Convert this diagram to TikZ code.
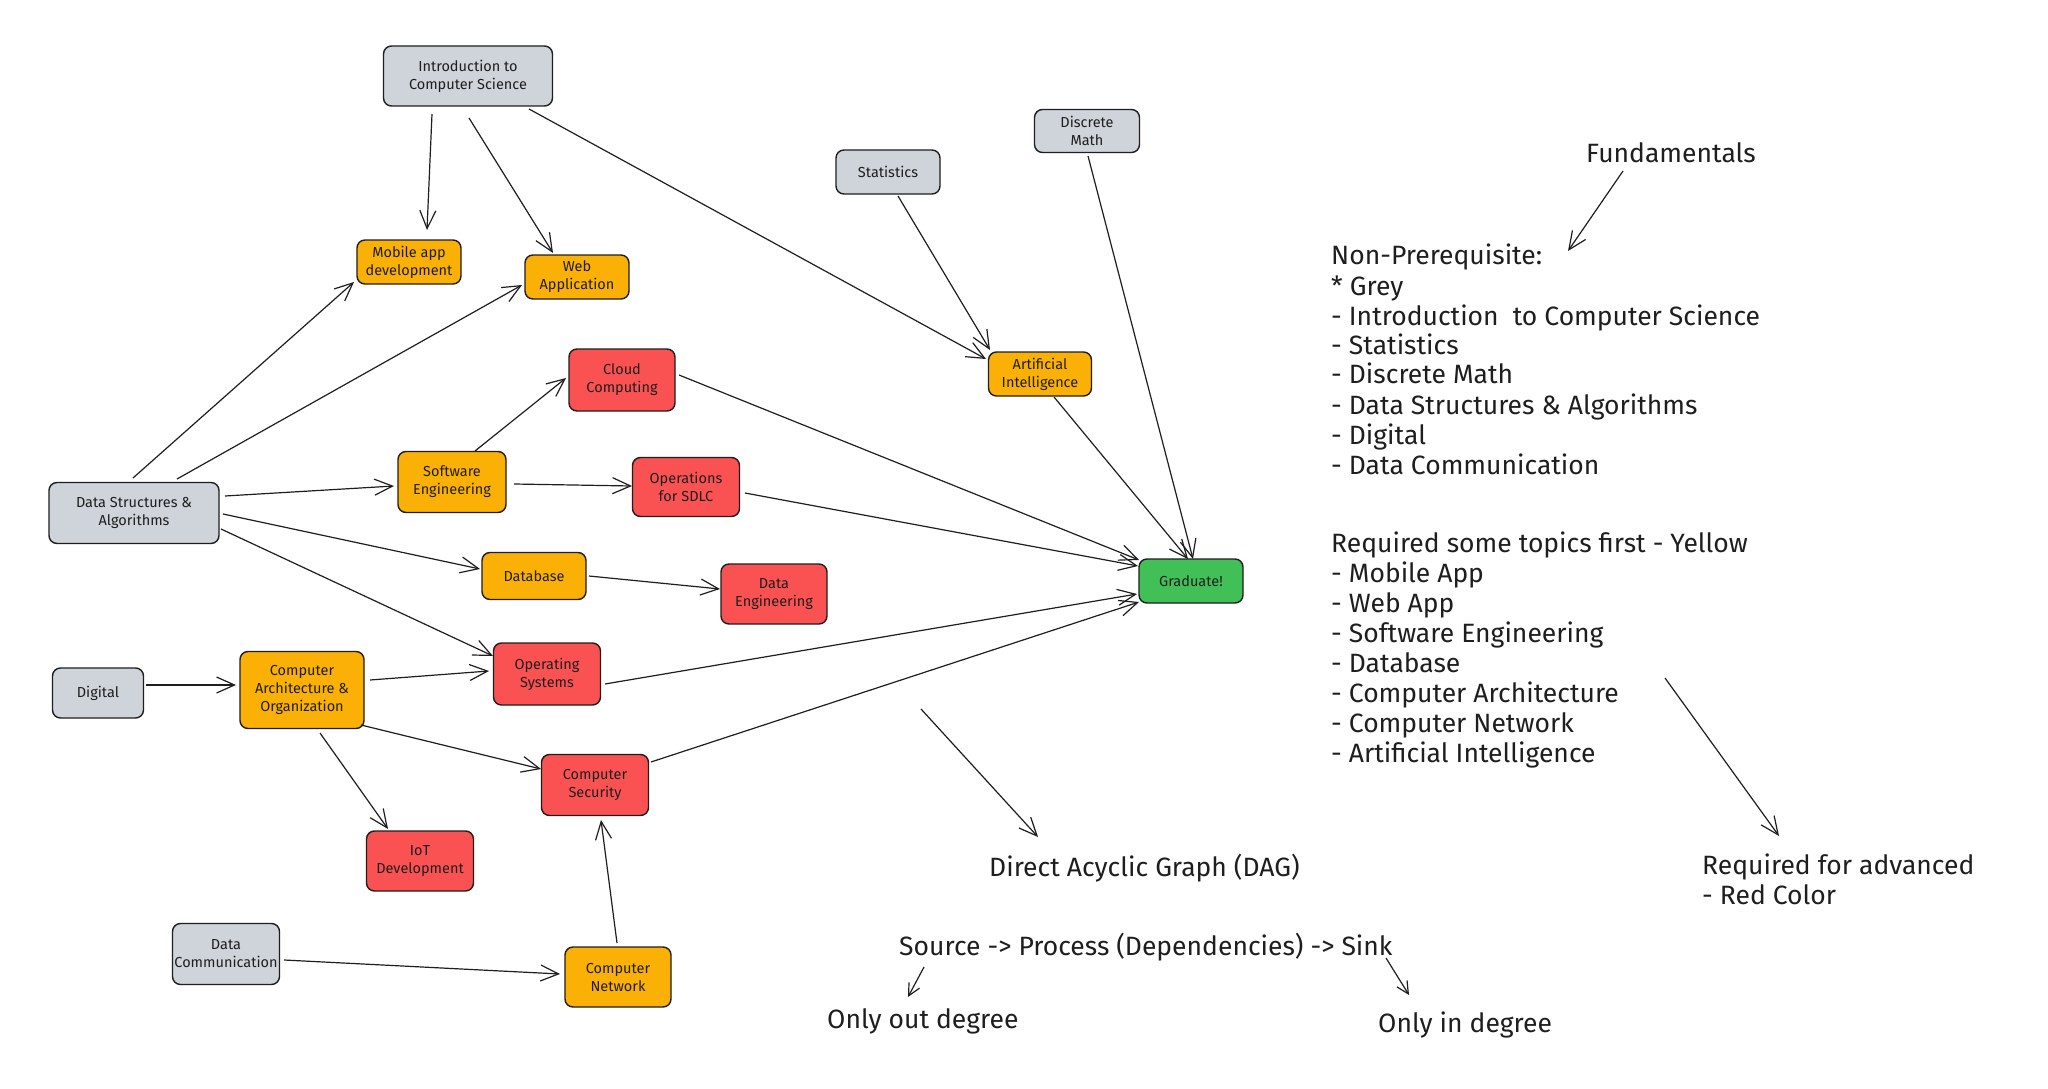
\documentclass[tikz,border=0pt]{standalone}
\usepackage{fontspec}
\setmainfont{Fira Sans}
\usetikzlibrary{arrows.meta,calc}
\definecolor{ink}{HTML}{1E1E1E}
\definecolor{cgrey}{HTML}{CED4DA}
\definecolor{cyellow}{HTML}{FAB005}
\definecolor{cred}{HTML}{FA5252}
\definecolor{cgreen}{HTML}{40C057}
\begin{document}
\begin{tikzpicture}[x=1pt,y=-1pt,
  box/.style={draw=ink, line width=1.4pt, rounded corners=8pt, align=center,
    inner sep=0pt, font=\fontsize{14.5}{18}\selectfont, text=ink},
  greybox/.style={box, fill=cgrey},
  yellowbox/.style={box, fill=cyellow},
  redbox/.style={box, fill=cred},
  greenbox/.style={box, fill=cgreen},
  sz/.style 2 args={minimum width=#1pt, minimum height=#2pt},
  link/.style={draw=ink, line width=1.2pt,
    -{Straight Barb[length=18pt,width=16pt,line width=1.2pt]}},
  note/.style={font=\fontsize{26.5}{30}\selectfont, text=ink, anchor=base west, inner sep=0pt}]
\fill[white] (0,0) rectangle (2048,1089);
\useasboundingbox (0,0) rectangle (2048,1089);

% ---- topics ----
\node[greybox, sz={169}{60}] (intro) at (468,76) {Introduction to\\Computer Science};
\node[yellowbox, sz={104}{44}] (mobile) at (409,262) {Mobile app\\development};
\node[yellowbox, sz={104}{44}] (web) at (577,277) {Web\\Application};
\node[redbox, sz={106}{62}] (cloud) at (622,380) {Cloud\\Computing};
\node[yellowbox, sz={108}{61}] (se) at (452,482) {Software\\Engineering};
\node[greybox, sz={170}{61}] (dsa) at (134,513) {Data Structures \&\\Algorithms};
\node[redbox, sz={107}{59}] (ops) at (686,487) {Operations\\for SDLC};
\node[yellowbox, sz={104}{47}] (db) at (534,576) {Database};
\node[redbox, sz={106}{60}] (de) at (774,594) {Data\\Engineering};
\node[redbox, sz={107}{62}] (os) at (547,674) {Operating\\Systems};
\node[greybox, sz={91}{50}] (digital) at (98,693) {Digital};
\node[yellowbox, sz={124}{77}] (cao) at (302,690) {Computer\\Architecture \&\\Organization};
\node[redbox, sz={107}{61}] (sec) at (595,785) {Computer\\Security};
\node[redbox, sz={107}{60}] (iot) at (420,861) {IoT\\Development};
\node[greybox, sz={107}{61}] (dcomm) at (226,954) {Data\\Communication};
\node[yellowbox, sz={106}{60}] (net) at (618,977) {Computer\\Network};
\node[greybox, sz={104}{44}] (stats) at (888,172) {Statistics};
\node[greybox, sz={105}{43}] (dmath) at (1087,131) {Discrete\\Math};
\node[yellowbox, sz={103}{44}] (ai) at (1040,374) {Artificial\\Intelligence};
\node[greenbox, sz={104}{44}] (grad) at (1191,581) {Graduate!};

% ---- dependencies ----
\draw[link] ($(intro)+(-36,38)$) -- ($(mobile)+(18,-32)$);
\draw[link] ($(intro)+(1,42)$) -- ($(web)+(-24,-24)$);
\draw[link] ($(intro)+(61,33)$) -- ($(ai)+(-54,-15)$);
\draw[link] ($(stats)+(10,24)$) -- ($(ai)+(-50,-24)$);
\draw[link] ($(dmath)+(1,25)$) -- ($(grad)+(2,-22)$);
\draw[link] ($(ai)+(14,23)$) -- ($(grad)+(-3,-22)$);
\draw[link] ($(cloud)+(57,-5)$) -- ($(grad)+(-52,-21)$);
\draw[link] ($(ops)+(59,6)$) -- ($(grad)+(-53,-15)$);
\draw[link] ($(db)+(55,0)$) -- ($(de)+(-54,-5)$);
\draw[link] ($(os)+(58,10)$) -- ($(grad)+(-54,13)$);
\draw[link] ($(sec)+(56,-23)$) -- ($(grad)+(-52,21)$);
\draw[link] ($(dsa)+(-1,-35)$) -- ($(mobile)+(-55,20)$);
\draw[link] ($(dsa)+(43,-34)$) -- ($(web)+(-55,8)$);
\draw[link] ($(dsa)+(91,-17)$) -- ($(se)+(-58,4)$);
\draw[link] ($(se)+(23,-31)$) -- ($(cloud)+(-56,-2)$);
\draw[link] ($(se)+(62,2)$) -- ($(ops)+(-54,-1)$);
\draw[link] ($(dsa)+(89,1)$) -- ($(db)+(-54,-7)$);
\draw[link] ($(dsa)+(87,16)$) -- ($(os)+(-54,-18)$);
\draw[link] ($(digital)+(48,-8)$) -- ($(cao)+(-66,-5)$);
\draw[link] ($(cao)+(68,-10)$) -- ($(os)+(-58,-3)$);
\draw[link] ($(cao)+(59,35)$) -- ($(sec)+(-54,-16)$);
\draw[link] ($(cao)+(18,43)$) -- ($(iot)+(-32,-32)$);
\draw[link] ($(dcomm)+(58,6)$) -- ($(net)+(-58,-3)$);
\draw[link] ($(net)+(-1,-34)$) -- ($(sec)+(6,35)$);

% ---- legend ----
\node[note] (fund) at (1586,162) {Fundamentals};
\foreach \yy/\txt [count=\i] in {
  256/Non-Prerequisite:,
  287/* Grey,
  317/- Introduction~~to Computer Science,
  346/- Statistics,
  375/- Discrete Math,
  406/- Data Structures \& Algorithms,
  436/- Digital,
  466/- Data Communication}
  \node[note] (np\i) at (1331,\yy+8) {\txt};
\foreach \yy/\txt [count=\i] in {
  544/Required some topics first - Yellow,
  574/- Mobile App,
  604/- Web App,
  634/- Software Engineering,
  664/- Database,
  694/- Computer Architecture,
  724/- Computer Network,
  754/- Artificial Intelligence}
  \node[note] (rq\i) at (1331,\yy+8) {\txt};
\node[note] (adv1) at (1702,874) {Required for advanced};
\node[note] (adv2) at (1702,904) {- Red Color};
\node[note] (dag) at (989,876) {Direct Acyclic Graph (DAG)};
\node[note] (flow) at (899,955) {Source -> Process (Dependencies) -> Sink};
\node[note] (outdeg) at (827,1028) {Only out degree};
\node[note] (indeg) at (1378,1032) {Only in degree};

% ---- annotation arrows ----
\coordinate (f1) at (1623,171); \coordinate (f2) at (1568,251);
\coordinate (r1) at (1665,678); \coordinate (r2) at (1779,836);
\coordinate (d1) at (921,709);  \coordinate (d2) at (1038,837);
\coordinate (s1) at (924,967);  \coordinate (s2) at (908,997);
\coordinate (k1) at (1386,958); \coordinate (k2) at (1409,995);
\draw[link] (f1) -- (f2);
\draw[link] (r1) -- (r2);
\draw[link] (d1) -- (d2);
\draw[link, -{Straight Barb[length=12pt,width=12pt,line width=1.2pt]}] (s1) -- (s2);
\draw[link, -{Straight Barb[length=12pt,width=12pt,line width=1.2pt]}] (k1) -- (k2);
\end{tikzpicture}
\end{document}
